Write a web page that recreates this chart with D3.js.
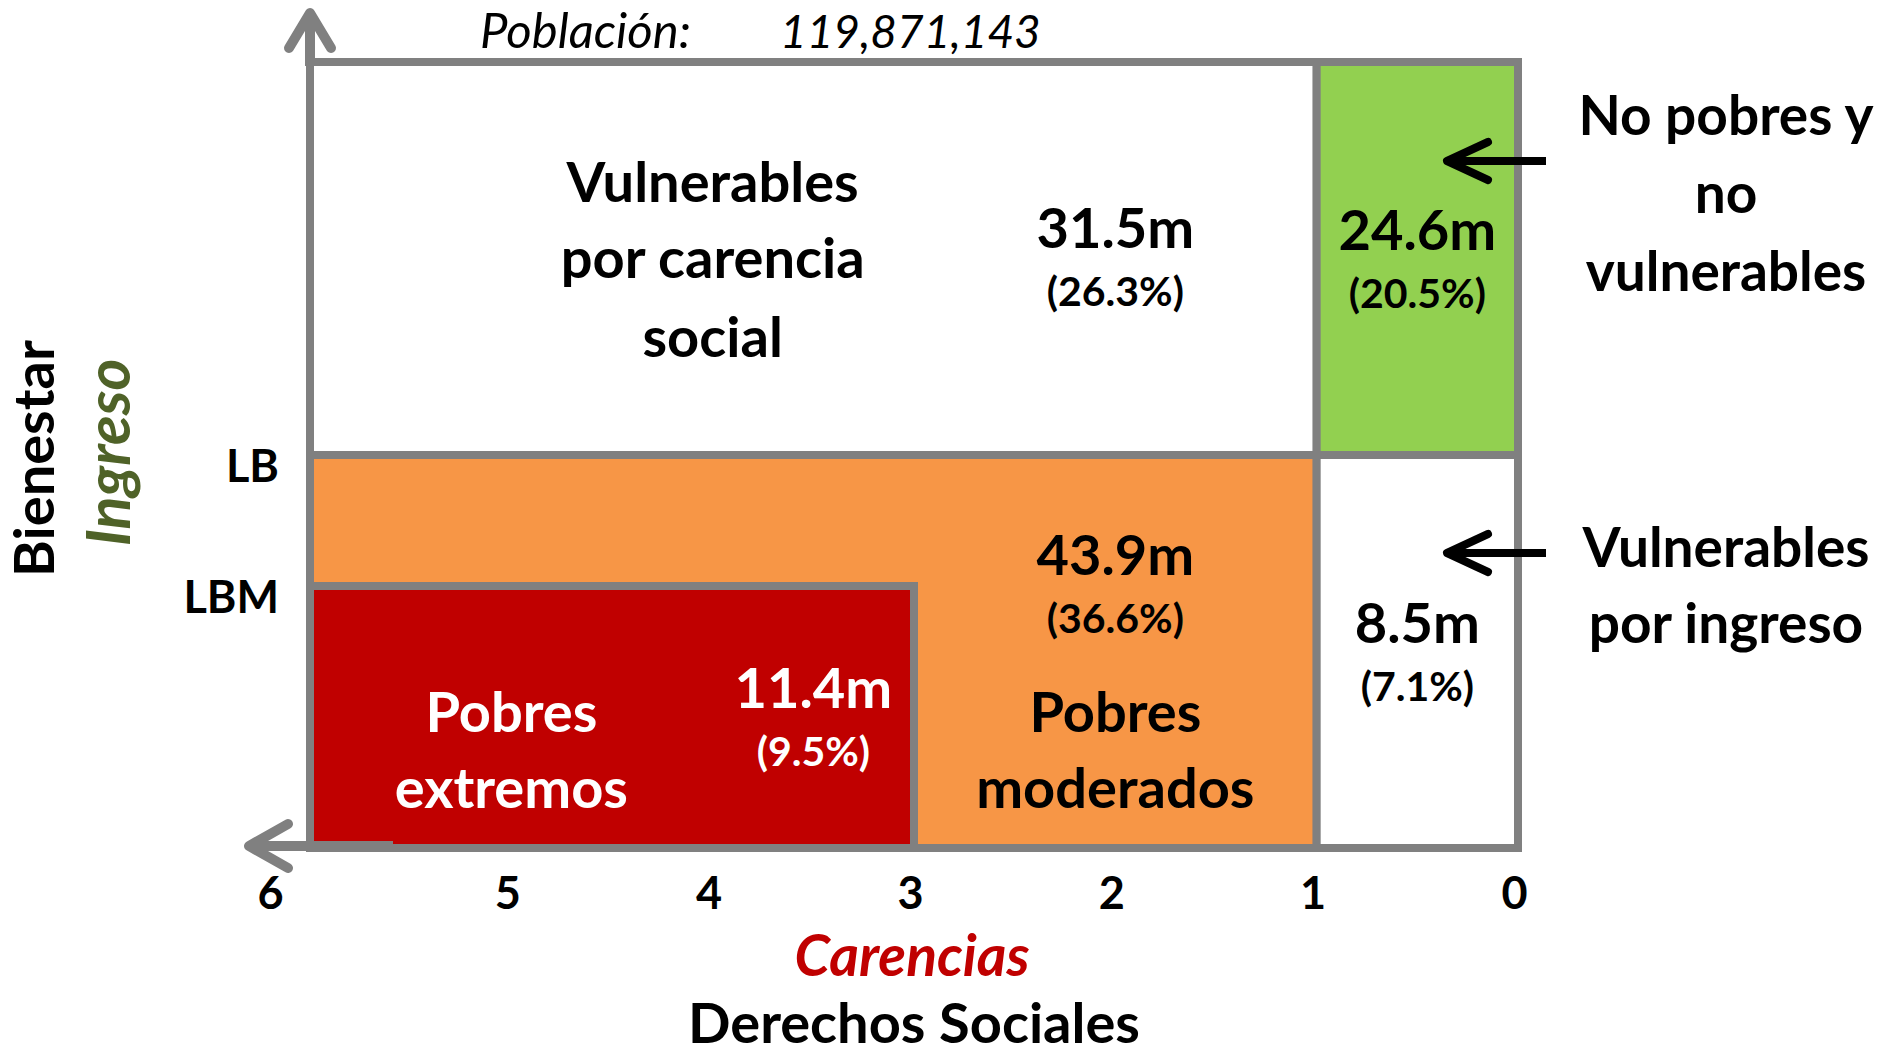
<!DOCTYPE html>
<html>
<head>
<meta charset="utf-8">
<script src="https://cdn.jsdelivr.net/npm/d3@7"></script>
<style>
  html, body { margin: 0; padding: 0; background: #ffffff; }
  svg { display: block; font-family: Lato, "Open Sans", sans-serif; }
</style>
</head>
<body>
<svg id="chart" width="1881" height="1054"></svg>
<script>
// ---------------- data ----------------
const population = 119871143;
const carenciaTicks = [0, 1, 2, 3, 4, 5, 6];
const incomeLineNames = ["LBM", "LB"];
const incomeLineValues = [2, 3];
const categories = [
  "Vulnerables por carencia social",
  "No pobres y no vulnerables",
  "Pobres moderados",
  "Vulnerables por ingreso",
  "Pobres extremos"
];
const millions = [31.5, 24.6, 43.9, 8.5, 11.4];
const percents = [26.3, 20.5, 36.6, 7.1, 9.5];
const carenciaFrom = [6, 1, 6, 1, 6];
const carenciaTo   = [1, 0, 1, 0, 3];
const ingresoFrom  = [3, 3, 0, 0, 0];
const ingresoTo    = [6, 6, 3, 3, 2];
const cellColors = ["#FFFFFF", "#92D050", "#F79646", "#FFFFFF", "#C00000"];

// ---------------- layout ----------------
const svg = d3.select("#chart");
const x = d3.scaleLinear().domain([0, 6]).range([1518, 310]);
const y = d3.scaleLinear().domain([0, 6]).range([848, 62]);
const GRAY = "#808080";
const BIG = 56, PCT = 41;

const cells = categories.map((c, i) => ({
  name: c, m: millions[i], p: percents[i],
  x0: carenciaFrom[i], x1: carenciaTo[i], y0: ingresoFrom[i], y1: ingresoTo[i],
  color: cellColors[i]
}));

// cells (red box last so it sits on top)
svg.append("g").selectAll("rect").data(cells).join("rect")
  .attr("x", d => x(d.x0))
  .attr("y", d => y(d.y1))
  .attr("width", d => x(d.x1) - x(d.x0))
  .attr("height", d => y(d.y0) - y(d.y1))
  .attr("fill", d => d.color)
  .attr("stroke", GRAY)
  .attr("stroke-width", 8);

// axis arrows
const arrows = svg.append("g").attr("stroke", GRAY).attr("fill", "none")
  .attr("stroke-width", 10).attr("stroke-linecap", "round").attr("stroke-linejoin", "round");
arrows.append("line").attr("x1", x(6)).attr("x2", x(6)).attr("y1", y(6) + 4).attr("y2", 14).attr("stroke-linecap", "butt");
arrows.append("polyline").attr("points", [[x(6) - 21, 48], [x(6), 13], [x(6) + 21, 48]].join(" "));
arrows.append("line").attr("x1", 393).attr("x2", 250).attr("y1", y(0) - 2).attr("y2", y(0) - 2).attr("stroke-linecap", "butt");
arrows.append("polyline").attr("points", [[288, y(0) - 24], [249, y(0) - 2], [288, y(0) + 20]].join(" "));

// x axis tick labels
const xAxis = d3.axisBottom(x).tickValues(carenciaTicks).tickSize(0).tickPadding(0).tickFormat(d3.format("d"));
const gx = svg.append("g").attr("transform", `translate(-4, 909)`).call(xAxis);
gx.select(".domain").remove();
gx.selectAll("text")
  .attr("y", 0).attr("dy", 0)
  .attr("font-family", "Lato, 'Open Sans', sans-serif")
  .attr("font-size", 45).attr("font-weight", 700).attr("fill", "#000")
  .attr("dx", d => d === 6 ? -36 : 0);

// y axis labels (income lines)
const yAxis = d3.axisLeft(y).tickValues(incomeLineValues).tickSize(0).tickPadding(0)
  .tickFormat(d => incomeLineNames[incomeLineValues.indexOf(d)]);
const gy = svg.append("g").attr("transform", `translate(279, 0)`).call(yAxis);
gy.select(".domain").remove();
gy.selectAll("text")
  .attr("x", 0).attr("dy", 26)
  .attr("font-family", "Lato, 'Open Sans', sans-serif")
  .attr("font-size", 45).attr("font-weight", 700).attr("fill", "#000");

// axis titles
svg.append("text").attr("x", x(3) - 2).attr("y", 976).attr("text-anchor", "middle")
  .attr("font-size", 57).attr("font-weight", 700).attr("font-style", "italic").attr("fill", "#C00000")
  .text("Carencias");
svg.append("text").attr("x", x(3)).attr("y", 1043).attr("text-anchor", "middle")
  .attr("font-size", 56).attr("font-weight", 700).attr("fill", "#000")
  .text("Derechos Sociales");
svg.append("text").attr("transform", `translate(54, ${(y(2) + y(3)) / 2 - 62}) rotate(-90)`).attr("text-anchor", "middle")
  .attr("font-size", 56).attr("font-weight", 700).attr("fill", "#000")
  .text("Bienestar");
svg.append("text").attr("transform", `translate(130, ${(y(2) + y(3)) / 2 - 68}) rotate(-90)`).attr("text-anchor", "middle")
  .attr("font-size", 61).attr("font-weight", 700).attr("font-style", "italic").attr("fill", "#4F6228")
  .text("Ingreso");

// population header
svg.append("text").attr("x", 480).attr("y", 48)
  .attr("font-size", 49).attr("font-style", "italic").attr("fill", "#000")
  .text("Población:");
svg.append("text").attr("x", 780).attr("y", 48)
  .attr("font-size", 46).attr("font-style", "italic").attr("fill", "#000")
  .text(d3.format(",")(population));

// cell labels
const labelLayout = {
  "Vulnerables por carencia social": { vx: x(2), vy: 248, nx: x(4), lines: ["Vulnerables", "por carencia", "social"], ny: [202, 278, 357], fill: "#000" },
  "No pobres y no vulnerables":      { vx: x(0.5), vy: 250, fill: "#000" },
  "Pobres moderados":                { vx: x(2), vy: 575, nx: x(2), lines: ["Pobres", "moderados"], ny: [732, 808], fill: "#000" },
  "Vulnerables por ingreso":         { vx: x(0.5), vy: 643, fill: "#000" },
  "Pobres extremos":                 { vx: x(3.5), vy: 708, nx: x(5), lines: ["Pobres", "extremos"], ny: [732, 808], fill: "#FFFFFF" }
};
const lg = svg.append("g").attr("text-anchor", "middle").attr("font-weight", 700);
cells.forEach(c => {
  const L = labelLayout[c.name];
  lg.append("text").attr("x", L.vx).attr("y", L.vy).attr("font-size", BIG).attr("fill", L.fill).text(`${c.m}m`);
  lg.append("text").attr("x", L.vx).attr("y", L.vy + 58).attr("font-size", PCT).attr("fill", L.fill).text(`(${c.p}%)`);
  if (L.lines) {
    L.lines.forEach((t, k) => {
      lg.append("text").attr("x", L.nx).attr("y", L.ny[k]).attr("font-size", BIG).attr("fill", L.fill).text(t);
    });
  }
});

// right side callouts
const callouts = [
  { lines: ["No pobres y", "no", "vulnerables"], ys: [135, 213, 291], ay: 161 },
  { lines: ["Vulnerables", "por ingreso"], ys: [567, 643], ay: 553 }
];
const cg = svg.append("g");
callouts.forEach(c => {
  c.lines.forEach((t, k) => {
    cg.append("text").attr("x", 1726).attr("y", c.ys[k]).attr("text-anchor", "middle")
      .attr("font-size", 55).attr("font-weight", 700).attr("fill", "#000").text(t);
  });
  const a = cg.append("g").attr("stroke", "#000").attr("fill", "none").attr("stroke-width", 8)
    .attr("stroke-linecap", "round").attr("stroke-linejoin", "round");
  a.append("line").attr("x1", 1546).attr("x2", 1448).attr("y1", c.ay).attr("y2", c.ay).attr("stroke-linecap", "butt");
  a.append("polyline").attr("points", [[1488, c.ay - 19], [1447, c.ay], [1488, c.ay + 19]].join(" "));
});
</script>
</body>
</html>
